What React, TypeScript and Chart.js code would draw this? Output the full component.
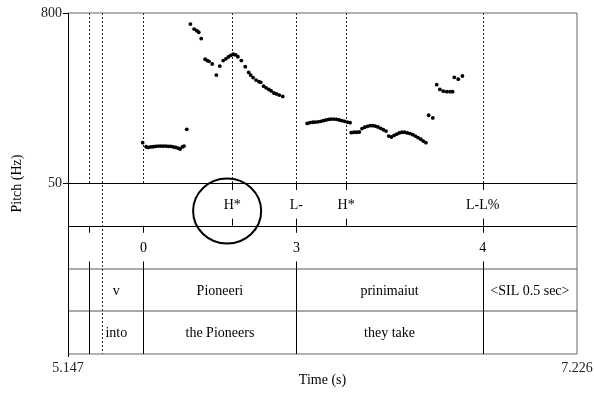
import React, { useEffect, useRef } from "react";
import { Chart, registerables } from "chart.js";

Chart.register(...registerables);

// ---------- data ----------
const timeRange = [5.147, 7.226];
const pitchRange = [50, 800];
const pitchTicks = [50, 800];

// pitch track (time s, Hz)
const pitchTimes = [
  5.452, 5.466, 5.475, 5.485, 5.495, 5.505, 5.516, 5.526, 5.536, 5.547, 5.557, 5.567, 5.577, 5.587, 5.596, 5.605, 5.614, 5.621,
  5.632,
  5.647, 5.662, 5.673, 5.681, 5.691,
  5.707, 5.716, 5.723, 5.736, 5.753, 5.767,
  5.781, 5.792, 5.802, 5.812, 5.822, 5.832, 5.841, 5.855, 5.871,
  5.885, 5.893, 5.903, 5.915, 5.927, 5.934, 5.946, 5.956, 5.967, 5.977, 5.988, 5.999, 6.010, 6.024,
  6.124, 6.135, 6.147, 6.157, 6.168, 6.179, 6.190, 6.201, 6.212, 6.222, 6.233, 6.244, 6.255, 6.266, 6.277, 6.288, 6.299,
  6.304, 6.315, 6.326, 6.337,
  6.348, 6.359, 6.370, 6.381, 6.392, 6.402, 6.413, 6.424, 6.435, 6.446,
  6.457, 6.468, 6.479, 6.490, 6.500, 6.511, 6.522, 6.533, 6.544, 6.555, 6.566, 6.577, 6.588, 6.598, 6.609,
  6.620, 6.637,
  6.653, 6.666, 6.680, 6.694, 6.707, 6.718,
  6.725, 6.741, 6.758,
];
const pitchHz = [
  228, 210, 207, 209, 210, 212, 213, 213, 213, 213, 212, 212, 209, 207, 204, 200, 209, 213,
  287,
  751, 729, 722, 715, 687,
  596, 590, 587, 575, 526, 566,
  590, 598, 606, 613, 618, 615, 607, 590, 563,
  538, 526, 515, 504, 497, 494, 477, 470, 463, 456, 447, 443, 438, 432,
  313, 316, 318, 319, 320, 322, 325, 328, 331, 332, 332, 331, 328, 325, 322, 319, 316,
  272, 274, 274, 275,
  290, 296, 300, 303, 303, 301, 297, 291, 285, 279,
  257, 253, 260, 266, 271, 274, 274, 271, 268, 263, 257, 250, 243, 235, 228,
  349, 337,
  484, 463, 455, 453, 453, 453,
  516, 508, 522,
];

// TextGrid tiers
const toneTimes = [5.818, 6.080, 6.283, 6.841];
const toneLabels = ["H*", "L-", "H*", "L-L%"];
const breakTimes = [5.234, 5.455, 6.080, 6.841];
const breakLabels = ["", "0", "3", "4"];
const wordBounds = [5.234, 5.455, 6.080, 6.841];
const wordLabels = ["", "v", "Pioneeri", "prinimaiut", "<SIL 0.5 sec>"];
const glossBounds = [5.234, 5.455, 6.080, 6.841];
const glossLabels = ["", "into", "the Pioneers", "they take", ""];
const extraBoundary = [5.286]; // dotted line through all tiers

// circled H*
const highlightTime = 5.797;
const highlightHalfWidthSec = 0.139;

const FONT = "'Liberation Serif', 'Times New Roman', serif";

const tierPlugin = {
  id: "tiers",
  beforeDatasetsDraw(chart: any) {
    const { ctx, chartArea } = chart;
    const xs = chart.scales.x;
    const ys = chart.scales.y;
    const L = chartArea.left, R = chartArea.right, T = chartArea.top, B = chartArea.bottom;
    const y50 = Math.round(ys.getPixelForValue(pitchRange[0]));
    const tierH = (B - y50) / 4;
    const tierTop = [0, 1, 2, 3].map((i) => y50 + i * tierH);
    const px = (t: number) => xs.getPixelForValue(t);

    ctx.save();
    // dotted boundary lines in pitch area
    const allBounds = Array.from(new Set([...toneTimes, ...breakTimes, ...wordBounds, ...glossBounds]));
    ctx.strokeStyle = "#222";
    ctx.lineWidth = 1;
    ctx.setLineDash([2, 2]);
    allBounds.forEach((t) => {
      const x = Math.round(px(t)) + 0.5;
      ctx.beginPath();
      ctx.moveTo(x, T);
      ctx.lineTo(x, y50);
      ctx.stroke();
    });
    extraBoundary.forEach((t) => {
      const x = Math.round(px(t)) + 0.5;
      ctx.beginPath();
      ctx.moveTo(x, T);
      ctx.lineTo(x, B);
      ctx.stroke();
    });
    ctx.setLineDash([]);

    // horizontal lines
    ctx.strokeStyle = "#000";
    ctx.lineWidth = 1;
    [y50 + 0.5, Math.round(tierTop[1]) + 0.5].forEach((y) => {
      ctx.beginPath();
      ctx.moveTo(L, y);
      ctx.lineTo(R, y);
      ctx.stroke();
    });
    ctx.strokeStyle = "#555";
    [Math.round(tierTop[2]), Math.round(tierTop[3])].forEach((y) => {
      ctx.beginPath();
      ctx.moveTo(L, y);
      ctx.lineTo(R, y);
      ctx.stroke();
    });

    // frame
    ctx.strokeStyle = "#666";
    ctx.beginPath();
    ctx.moveTo(L, T);
    ctx.lineTo(R, T);
    ctx.lineTo(R, B);
    ctx.lineTo(L, B);
    ctx.stroke();
    ctx.strokeStyle = "#000";
    ctx.beginPath();
    ctx.moveTo(L + 0.5, T);
    ctx.lineTo(L + 0.5, B + 3);
    ctx.stroke();

    const tick = 7;
    ctx.strokeStyle = "#000";
    // point tiers ticks
    const drawTicks = (times: number[], top: number) => {
      times.forEach((t) => {
        const x = Math.round(px(t)) + 0.5;
        ctx.beginPath();
        ctx.moveTo(x, top);
        ctx.lineTo(x, top + tick);
        ctx.moveTo(x, top + tierH - tick);
        ctx.lineTo(x, top + tierH);
        ctx.stroke();
      });
    };
    drawTicks(toneTimes, tierTop[0]);
    drawTicks(breakTimes, tierTop[1]);

    // interval tier boundaries
    const drawBounds = (times: number[], top: number) => {
      times.forEach((t) => {
        const x = Math.round(px(t)) + 0.5;
        ctx.beginPath();
        ctx.moveTo(x, top);
        ctx.lineTo(x, top + tierH);
        ctx.stroke();
      });
    };
    drawBounds(wordBounds, tierTop[2]);
    drawBounds(glossBounds, tierTop[3]);

    // labels
    ctx.fillStyle = "#000";
    ctx.font = `14px ${FONT}`;
    ctx.textAlign = "center";
    ctx.textBaseline = "middle";
    const drawPointLabels = (times: number[], labels: string[], top: number) => {
      times.forEach((t, i) => {
        if (labels[i]) ctx.fillText(labels[i], px(t), top + tierH / 2 + 1);
      });
    };
    drawPointLabels(toneTimes, toneLabels, tierTop[0]);
    drawPointLabels(breakTimes, breakLabels, tierTop[1]);
    const drawIntervalLabels = (bounds: number[], labels: string[], top: number) => {
      const edges = [timeRange[0], ...bounds, timeRange[1]];
      labels.forEach((lab, i) => {
        if (!lab) return;
        const xm = (px(edges[i]) + px(edges[i + 1])) / 2;
        ctx.fillText(lab, xm, top + tierH / 2 + 1);
      });
    };
    drawIntervalLabels(wordBounds, wordLabels, tierTop[2]);
    drawIntervalLabels(glossBounds, glossLabels, tierTop[3]);

    // circle around H*
    const cx = px(highlightTime);
    const rx = px(highlightTime + highlightHalfWidthSec) - cx;
    const cy = tierTop[0] + tierH * 0.655;
    const ry = tierH * 0.76;
    ctx.lineWidth = 2;
    ctx.beginPath();
    ctx.ellipse(cx, cy, rx, ry, 0, 0, Math.PI * 2);
    ctx.stroke();
    ctx.restore();
  },
};

export default function App() {
  const ref = useRef<HTMLCanvasElement | null>(null);
  useEffect(() => {
    if (!ref.current) return;
    // y scale: pitch occupies the top half, tiers the bottom half
    const span = pitchRange[1] - pitchRange[0];
    const yMin = pitchRange[0] - span * (171 / 170);
    const chart = new Chart(ref.current, {
      type: "scatter",
      data: {
        datasets: [
          {
            data: pitchTimes.map((t, i) => ({ x: t, y: pitchHz[i] })),
            backgroundColor: "#000",
            borderColor: "#000",
            pointRadius: 1.9,
            borderWidth: 0,
            showLine: false,
          },
        ],
      },
      options: {
        animation: false,
        responsive: false,
        maintainAspectRatio: false,
        layout: { padding: { top: 13, right: 17, bottom: 0, left: 0 } },
        plugins: { legend: { display: false }, tooltip: { enabled: false } },
        scales: {
          x: {
            type: "linear",
            min: timeRange[0],
            max: timeRange[1],
            afterBuildTicks: (s: any) => {
              s.ticks = timeRange.map((v) => ({ value: v }));
            },
            afterFit: (s: any) => {
              s.height = 40;
              s.paddingLeft = 0;
              s.paddingRight = 0;
            },
            grid: { display: false, drawTicks: false },
            border: { display: false },
            ticks: {
              autoSkip: false,
              maxRotation: 0,
              padding: 6,
              color: "#222",
              font: { family: FONT, size: 14 },
              callback: (v: any) => Number(v).toFixed(3),
            },
            title: {
              display: true,
              text: "Time (s)",
              color: "#000",
              font: { family: FONT, size: 14 },
              padding: { top: 0, bottom: 5 },
            },
          },
          y: {
            type: "linear",
            min: yMin,
            max: pitchRange[1],
            afterBuildTicks: (s: any) => {
              s.ticks = pitchTicks.map((v) => ({ value: v }));
            },
            afterFit: (s: any) => {
              s.width = 68;
              s.paddingTop = 0;
              s.paddingBottom = 0;
            },
            grid: { drawOnChartArea: false, drawTicks: true, tickLength: 5, color: "#000" },
            border: { display: false },
            ticks: {
              autoSkip: false,
              padding: 1,
              color: "#222",
              font: { family: FONT, size: 14 },
              callback: (v: any) => String(v),
            },
            title: {
              display: true,
              text: "Pitch (Hz)",
              color: "#000",
              font: { family: FONT, size: 14 },
              padding: { top: 9, bottom: 0 },
            },
          },
        },
      },
      plugins: [tierPlugin],
    });
    return () => chart.destroy();
  }, []);
  return (
    <div style={{ position: "absolute", left: 0, top: 0, width: 594, height: 394, background: "#fff" }}>
      <canvas ref={ref} width={594} height={394} />
    </div>
  );
}
